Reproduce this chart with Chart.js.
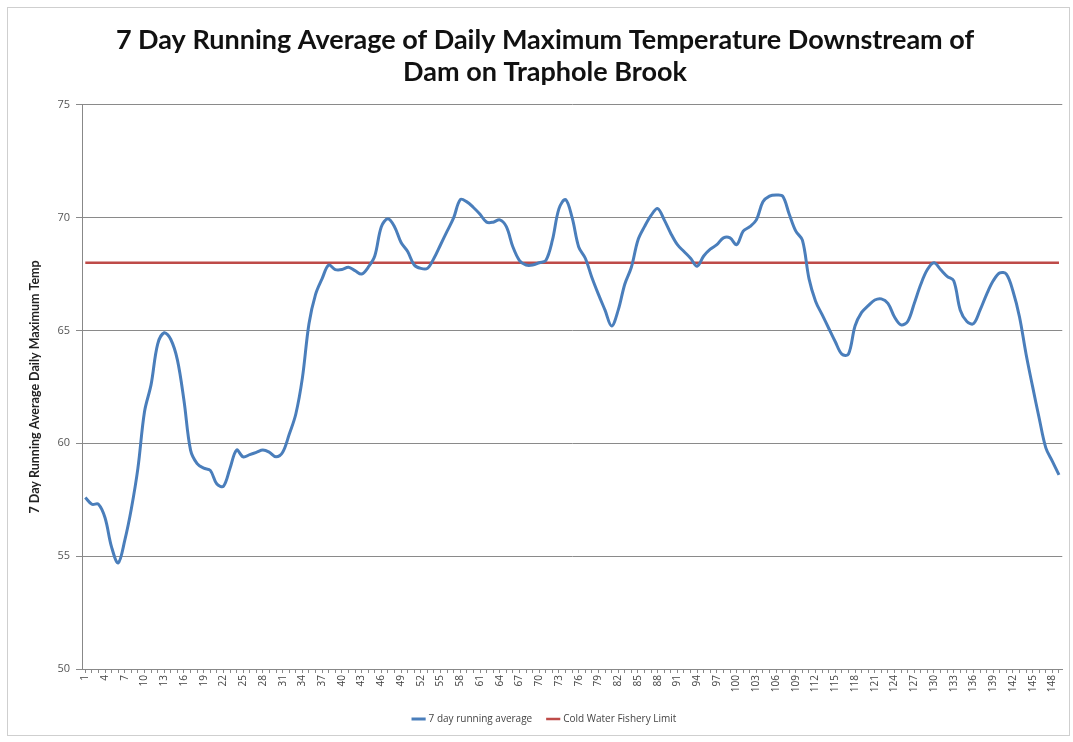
<!DOCTYPE html>
<html>
<head>
<meta charset="utf-8">
<script src="https://cdn.jsdelivr.net/npm/chart.js@4.4.1/dist/chart.umd.min.js"></script>
<style>
  body { margin: 0; background: #fff; }
  #wrap { position: relative; width: 1073px; height: 742px; }
  #frame { position: absolute; left: 7px; top: 7px; width: 1061px; height: 727px; border: 1px solid #cfcfcf; pointer-events: none; }
  canvas { position: absolute; left: 0; top: 0; }
</style>
</head>
<body>
<div id="wrap">
  <canvas id="grafico"></canvas>
  <div id="frame"></div>
</div>
<script>
// dias 1..149
const dias = Array.from({ length: 149 }, (_, i) => String(i + 1));

// 7 day running average
const promedio7 = [
  57.6, 57.3, 57.3, 56.7, 55.4, 54.7, 55.7, 57.1, 58.9, 61.4,
  62.6, 64.4, 64.9, 64.6, 63.7, 61.9, 59.7, 59.1, 58.9, 58.8,
  58.2, 58.1, 58.9, 59.7, 59.4, 59.5, 59.6, 59.7, 59.6, 59.4,
  59.6, 60.4, 61.3, 62.9, 65.3, 66.6, 67.3, 67.9, 67.7, 67.7,
  67.8, 67.65, 67.5, 67.8, 68.3, 69.6, 69.95, 69.6, 68.9, 68.5,
  67.9, 67.75, 67.75, 68.2, 68.8, 69.4, 70.0, 70.8, 70.7, 70.45,
  70.15, 69.8, 69.8, 69.9, 69.6, 68.7, 68.1, 67.9, 67.9, 68.0,
  68.1, 69.0, 70.4, 70.8, 70.0, 68.7, 68.2, 67.35, 66.6, 65.9,
  65.2, 65.9, 67.05, 67.8, 69.0, 69.6, 70.1, 70.4, 69.9, 69.3,
  68.8, 68.5, 68.2, 67.85, 68.3, 68.6, 68.8, 69.1, 69.1, 68.8,
  69.4, 69.6, 69.9, 70.7, 70.95, 71.0, 70.95, 70.15, 69.4, 69.0,
  67.3, 66.3, 65.7, 65.1, 64.5, 63.95, 63.95, 65.2, 65.8, 66.1,
  66.35, 66.4, 66.2, 65.6, 65.25, 65.4, 66.2, 67.05, 67.7, 68.0,
  67.7, 67.4, 67.2, 65.9, 65.4, 65.3, 65.9, 66.6, 67.2, 67.55,
  67.5, 66.75, 65.6, 63.95, 62.5, 61.1, 59.8, 59.2, 58.6
];

// limite de pesqueria de agua fria
const limite = 68;
const limiteSerie = dias.map(() => limite);

const yTicks = [50, 55, 60, 65, 70, 75];

const canvas = document.querySelector("#grafico");
canvas.width = 1073;
canvas.height = 742;
const ctx = canvas.getContext("2d");

new Chart(ctx, {
  type: "line",
  data: {
    labels: dias,
    datasets: [
      {
        label: "7 day running average",
        data: promedio7,
        borderColor: "#4A7EBB",
        backgroundColor: "#4A7EBB",
        borderWidth: 3,
        pointRadius: 0,
        tension: 0.35,
      },
      {
        label: "Cold Water Fishery Limit",
        data: limiteSerie,
        borderColor: "#BE4B48",
        backgroundColor: "#BE4B48",
        borderWidth: 2.5,
        pointRadius: 0,
      },
    ],
  },
  options: {
    responsive: false,
    animation: false,
    layout: { padding: { left: 22, right: 5, top: 24, bottom: 8 } },
    plugins: {
      title: {
        display: true,
        text: [
          "7 Day Running Average of Daily Maximum Temperature Downstream of",
          "Dam on Traphole Brook",
        ],
        color: "#111",
        font: { family: "Lato", size: 27, weight: "bold", lineHeight: 1.2 },
        padding: { top: 0, bottom: 16 },
      },
      legend: {
        position: "bottom",
        labels: {
          usePointStyle: true,
          pointStyle: "line",
          boxWidth: 30,
          color: "#444",
          font: { family: "Open Sans", size: 10 },
          padding: 16,
        },
      },
      tooltip: { enabled: false },
    },
    scales: {
      x: {
        offset: true,
        grid: {
          display: true,
          drawOnChartArea: false,
          drawTicks: true,
          tickLength: 4,
          color: "#888",
        },
        border: { color: "#888" },
        ticks: {
          autoSkip: false,
          maxRotation: 90,
          minRotation: 90,
          color: "#444",
          font: { family: "Open Sans", size: 10 },
          padding: 2,
          callback: function (val, index) {
            return index % 3 === 0 ? this.getLabelForValue(val) : "";
          },
        },
        afterFit: (scale) => { scale.height = 29; },
      },
      y: {
        min: 50,
        max: 75,
        afterBuildTicks: (scale) => {
          scale.ticks = yTicks.map((v) => ({ value: v }));
        },
        grid: { color: "#8a8a8a", drawTicks: true, tickLength: 6 },
        border: { color: "#888" },
        ticks: {
          color: "#555",
          font: { family: "Open Sans", size: 11 },
          padding: 6,
        },
        title: {
          display: true,
          text: "7 Day Running Average Daily Maximum Temp",
          color: "#222",
          font: { family: "Lato", size: 12.5, weight: "bold" },
          padding: { top: 5, bottom: 0 },
        },
        afterFit: (scale) => { scale.width = 60; },
      },
    },
  },
});
</script>
</body>
</html>
